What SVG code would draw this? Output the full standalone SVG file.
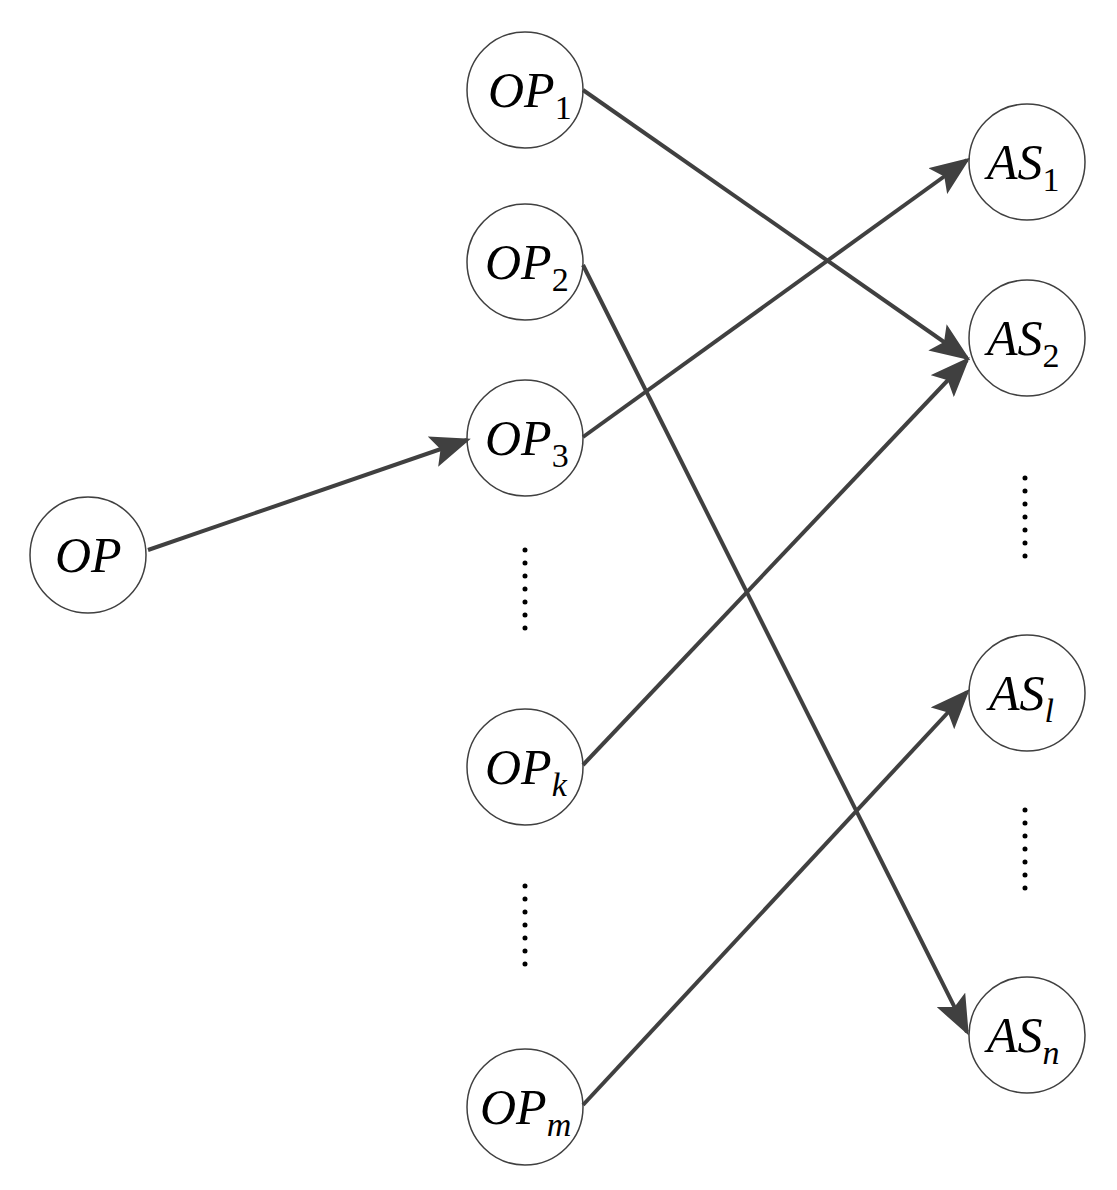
<svg xmlns="http://www.w3.org/2000/svg" width="1117" height="1190" viewBox="0 0 1117 1190">
<style>
circle{fill:#fff;stroke:#404040;stroke-width:1.5}
text{font-family:"Liberation Serif","Times New Roman",serif;font-style:italic;font-size:50px;fill:#000}
.s{font-size:34px}
.u{font-style:normal}
.e{stroke:#404040;stroke-width:4;fill:none}
.d{stroke:#000;stroke-width:5;stroke-dasharray:0 13;stroke-linecap:round}
</style>
<defs><marker id="a" markerWidth="10" markerHeight="8" refX="9" refY="4" orient="auto" markerUnits="strokeWidth"><path d="M0,0L10,4L0,8L2,4Z" fill="#404040"/></marker></defs>
<rect width="1117" height="1190" fill="#fff"/>
<g id="OP"><circle cx="88" cy="555" r="58"/><text x="55" y="572">OP</text></g>
<g id="OP1"><circle cx="525" cy="90" r="58"/><text x="488" y="107">OP<tspan class="s u" dy="12">1</tspan></text></g>
<g id="OP2"><circle cx="525" cy="262" r="58"/><text x="485" y="279">OP<tspan class="s u" dy="12">2</tspan></text></g>
<g id="OP3"><circle cx="525" cy="438" r="58"/><text x="485" y="455">OP<tspan class="s u" dy="12">3</tspan></text></g>
<g id="OPk"><circle cx="525" cy="767" r="58"/><text x="485" y="784">OP<tspan class="s" dy="12">k</tspan></text></g>
<g id="OPm"><circle cx="525" cy="1107" r="58"/><text x="480" y="1124">OP<tspan class="s" dy="12">m</tspan></text></g>
<g id="AS1"><circle cx="1027" cy="162" r="58"/><text x="987" y="179">AS<tspan class="s u" dy="12">1</tspan></text></g>
<g id="AS2"><circle cx="1027" cy="338" r="58"/><text x="987" y="355">AS<tspan class="s u" dy="12">2</tspan></text></g>
<g id="ASl"><circle cx="1027" cy="693" r="58"/><text x="989" y="710">AS<tspan class="s" dy="12">l</tspan></text></g>
<g id="ASn"><circle cx="1027" cy="1035" r="58"/><text x="987" y="1052">AS<tspan class="s" dy="12">n</tspan></text></g>
<g id="dots">
<line class="d" x1="525" y1="550" x2="525" y2="641"/>
<line class="d" x1="525" y1="886" x2="525" y2="977"/>
<line class="d" x1="1025" y1="478" x2="1025" y2="569"/>
<line class="d" x1="1025" y1="810" x2="1025" y2="901"/>
</g>
<g id="connectors">
<line class="e" marker-end="url(#a)" x1="148" y1="550" x2="467" y2="440"/>
<line class="e" marker-end="url(#a)" x1="583" y1="90" x2="967" y2="358"/>
<line class="e" marker-end="url(#a)" x1="583" y1="265" x2="967" y2="1032"/>
<line class="e" marker-end="url(#a)" x1="583" y1="437" x2="967" y2="160"/>
<line class="e" marker-end="url(#a)" x1="583" y1="765" x2="967" y2="360"/>
<line class="e" marker-end="url(#a)" x1="583" y1="1105" x2="967" y2="692"/>
</g>
</svg>
